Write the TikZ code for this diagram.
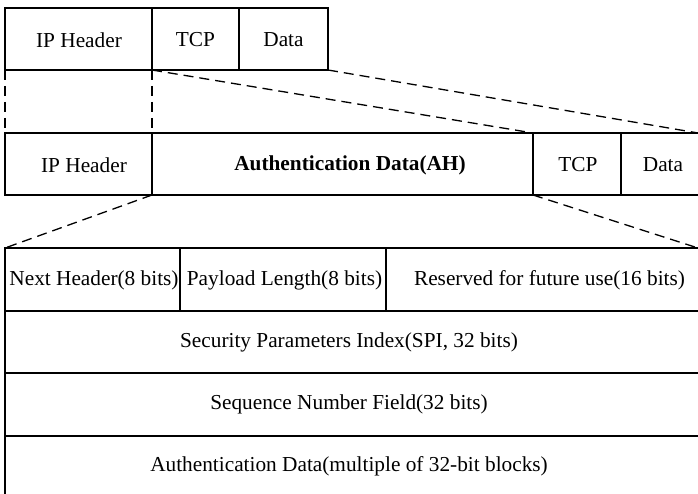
\documentclass[tikz,border=0pt]{standalone}
\usepackage{fontspec}
\setmainfont{Liberation Serif}
\begin{document}
\begin{tikzpicture}[x=1pt,y=-1pt,
  cell/.style={draw,line width=2pt,inner sep=0pt,outer sep=0pt,rectangle},
  lbl/.style={inner sep=0pt,font=\fontsize{21.3}{24}\selectfont},
  guide/.style={draw,dashed,line width=1.3pt,dash pattern=on 10pt off 6pt}]
\useasboundingbox (0,0) rectangle (698,494);
\clip (0,0) rectangle (698,494);

% original IP packet
\node[cell,minimum width=147pt,minimum height=62pt] (ip1) at (78.5,39) {};
\node[cell,minimum width=87pt,minimum height=62pt] (tcp1) at (195.5,39) {};
\node[cell,minimum width=89pt,minimum height=62pt] (data1) at (283.5,39) {};
\node[lbl] (ip1t) at (79,40) {IP Header};
\node[lbl] (tcp1t) at (195.5,40) {TCP};
\node[lbl] (data1t) at (283.5,40) {Data};

% packet with the AH inserted
\node[cell,minimum width=147pt,minimum height=62pt] (ip2) at (78.5,164) {};
\node[cell,minimum width=381pt,minimum height=62pt] (ah) at (342.5,164) {};
\node[cell,minimum width=88pt,minimum height=62pt] (tcp2) at (577,164) {};
\node[cell,minimum width=100pt,minimum height=62pt] (data2) at (671,164) {};
\node[lbl] (ip2t) at (84,165) {IP Header};
\node[lbl,font=\fontsize{21.3}{24}\selectfont\bfseries] (aht) at (350,165) {Authentication Data(AH)};
\node[lbl] (tcp2t) at (578,165) {TCP};
\node[lbl] (data2t) at (663,165) {Data};

% AH field layout
\node[cell,minimum width=175pt,minimum height=63pt] (nh) at (92.5,279.5) {};
\node[cell,minimum width=206pt,minimum height=63pt] (pl) at (283,279.5) {};
\node[cell,minimum width=330pt,minimum height=63pt] (rs) at (551,279.5) {};
\node[cell,minimum width=710pt,minimum height=62pt] (spi) at (360,342) {};
\node[cell,minimum width=710pt,minimum height=63pt] (seq) at (360,404.5) {};
\node[cell,minimum width=710pt,minimum height=63pt] (auth) at (360,467.5) {};
\node[lbl] (nht) at (94,280) {Next Header(8 bits)};
\node[lbl] (plt) at (284.5,280) {Payload Length(8 bits)};
\node[lbl] (rst) at (549.5,280) {Reserved for future use(16 bits)};
\node[lbl] (spit) at (349,342) {Security Parameters Index(SPI, 32 bits)};
\node[lbl] (seqt) at (349,404) {Sequence Number Field(32 bits)};
\node[lbl] (autht) at (349,466) {Authentication Data(multiple of 32-bit blocks)};

% expansion guides
\coordinate (endA) at (698,133);
\coordinate (endB) at (698,248);
\draw[guide] (ip1.south west) -- (ip2.north west);
\draw[guide] (ip1.south east) -- (ip2.north east);
\draw[guide] (tcp1.south west) -- (ah.north east);
\draw[guide] (data1.south east) -- (endA);
\draw[guide] (ah.south west) -- (nh.north west);
\draw[guide] (ah.south east) -- (endB);
\end{tikzpicture}
\end{document}
